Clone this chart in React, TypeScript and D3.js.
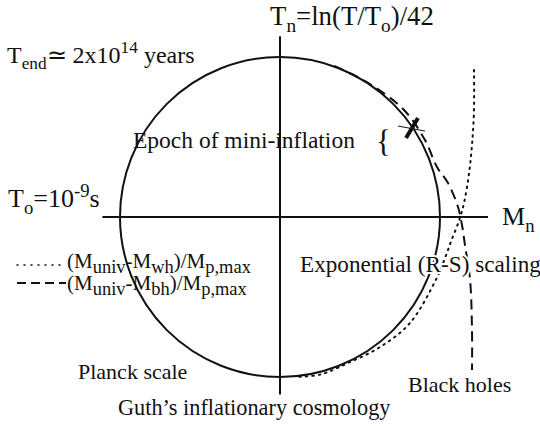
import React from 'react'
import * as d3 from 'd3'

// normalized coordinates: Mn (horizontal), Tn (vertical), unit circle = Guth's cosmology
const dashedBH: [number, number][] = [
    [0.34, 0.944], [0.5625, 0.831], [0.775, 0.669], [0.906, 0.481], [0.981, 0.3125],
    [1.05, 0.2125], [1.1125, 0.0625], [1.1375, -0.05], [1.156, -0.175], [1.1875, -0.3875],
    [1.2, -0.706], [1.2, -0.956],
]
const dottedWH: [number, number][] = [
    [1.2125, 0.919], [1.2125, 0.669], [1.2, 0.45], [1.18, 0.2625], [1.15, 0.0875],
    [1.12, -0.02], [1.07, -0.15], [1.03, -0.26], [0.98, -0.38], [0.8125, -0.6625],
    [0.625, -0.8125], [0.42, -0.915], [0.25, -0.985], [0.12, -0.998],
]
const mnAxis = [-1.11, 1.3]
const tnAxis = [-1.11, 1.13]
const crossAt: [number, number] = [0.825, 0.556]

type Part = { t: string; k?: 'sub' | 'sup' }

const FONT = "'Liberation Serif'"

const Rich: React.FC<{ x: number; y: number; size: number; parts: Part[]; halo?: boolean; sub?: number }> = ({ x, y, size, parts, halo, sub = 0.72 }) => {
    let shift = 0
    return (
        <text x={x} y={y} fill="#111" style={{ fontFamily: FONT, fontSize: size }}
            stroke={halo ? '#fff' : 'none'} strokeWidth={halo ? 4 : 0} paintOrder="stroke" strokeLinejoin="round">
            {parts.map((p, i) => {
                const target = p.k === 'sub' ? size * 0.25 : p.k === 'sup' ? -size * 0.4 : 0
                const dy = target - shift
                shift = target
                return (
                    <tspan key={i} dy={dy} style={{ fontSize: p.k ? size * sub : size }}>
                        {p.t}
                    </tspan>
                )
            })}
        </text>
    )
}

export default function App() {
    const W = 540
    const H = 426
    const x = d3.scaleLinear().domain([-1, 1]).range([120, 440])
    const y = d3.scaleLinear().domain([-1, 1]).range([377, 57])

    const line = d3
        .line<[number, number]>()
        .x((d) => x(d[0]))
        .y((d) => y(d[1]))
        .curve(d3.curveCatmullRom.alpha(0.5))

    const r = x(1) - x(0)
    const cx = x(crossAt[0])
    const cy = y(crossAt[1])

    return (
        <div style={{ position: 'absolute', left: 0, top: 0 }}>
            <svg width={W} height={H} style={{ display: 'block', background: '#fff' }}>
                {/* axes */}
                <line x1={x(mnAxis[0])} x2={x(mnAxis[1])} y1={y(0)} y2={y(0)} stroke="#111" strokeWidth={2} />
                <line x1={x(0)} x2={x(0)} y1={y(tnAxis[0])} y2={y(tnAxis[1])} stroke="#111" strokeWidth={2} />

                {/* Guth circle */}
                <circle cx={x(0)} cy={y(0)} r={r} fill="none" stroke="#111" strokeWidth={2} />

                {/* curves */}
                <path d={line(dashedBH) || ''} fill="none" stroke="#111" strokeWidth={2} strokeDasharray="10 6" />
                <path d={line(dottedWH) || ''} fill="none" stroke="#111" strokeWidth={2}
                    strokeDasharray="1.5 5" strokeLinecap="round" />

                {/* mini-inflation mark */}
                <line x1={cx - 6} y1={cy + 10} x2={cx + 6} y2={cy - 10} stroke="#111" strokeWidth={4} />
                <line x1={cx - 14} y1={cy - 2} x2={cx + 13} y2={cy + 3} stroke="#111" strokeWidth={1} />

                {/* legend */}
                <line x1={17} x2={66} y1={265} y2={265} stroke="#111" strokeWidth={1.5}
                    strokeDasharray="1 6" strokeLinecap="round" />
                <line x1={17} x2={66} y1={283} y2={283} stroke="#111" strokeWidth={2} strokeDasharray="9 5" />

                <Rich x={270} y={25} size={26.8} parts={[{ t: 'T' }, { t: 'n', k: 'sub' }, { t: '=ln(T/T' }, { t: 'o', k: 'sub' }, { t: ')/42' }]} />
                <Rich x={7} y={63} size={24} parts={[{ t: 'T' }, { t: 'end', k: 'sub' }, { t: '≃ 2x10' }, { t: '14', k: 'sup' }, { t: ' years' }]} />
                <Rich x={133} y={148} size={23.5} parts={[{ t: 'Epoch of mini-inflation' }]} />
                <Rich x={376} y={152} size={31} parts={[{ t: '{' }]} />
                <Rich x={8} y={207} size={26} parts={[{ t: 'T' }, { t: 'o', k: 'sub' }, { t: '=10' }, { t: '-9', k: 'sup' }, { t: 's' }]} />
                <Rich x={502} y={225} size={26} parts={[{ t: 'M' }, { t: 'n', k: 'sub' }]} />
                <Rich x={300} y={272} size={23.2} halo parts={[{ t: 'Exponential (R-S) scaling' }]} />
                <Rich x={67} y={268} size={21} sub={0.88} parts={[{ t: '(M' }, { t: 'univ', k: 'sub' }, { t: '-M' }, { t: 'wh', k: 'sub' }, { t: ')/M' }, { t: 'p,max', k: 'sub' }]} />
                <Rich x={67} y={290} size={21} sub={0.88} parts={[{ t: '(M' }, { t: 'univ', k: 'sub' }, { t: '-M' }, { t: 'bh', k: 'sub' }, { t: ')/M' }, { t: 'p,max', k: 'sub' }]} />
                <Rich x={78} y={379} size={22} parts={[{ t: 'Planck scale' }]} />
                <Rich x={408} y={392} size={22} parts={[{ t: 'Black holes' }]} />
                <Rich x={118} y={415} size={22.3} parts={[{ t: 'Guth’s inflationary cosmology' }]} />
            </svg>
        </div>
    )
}
